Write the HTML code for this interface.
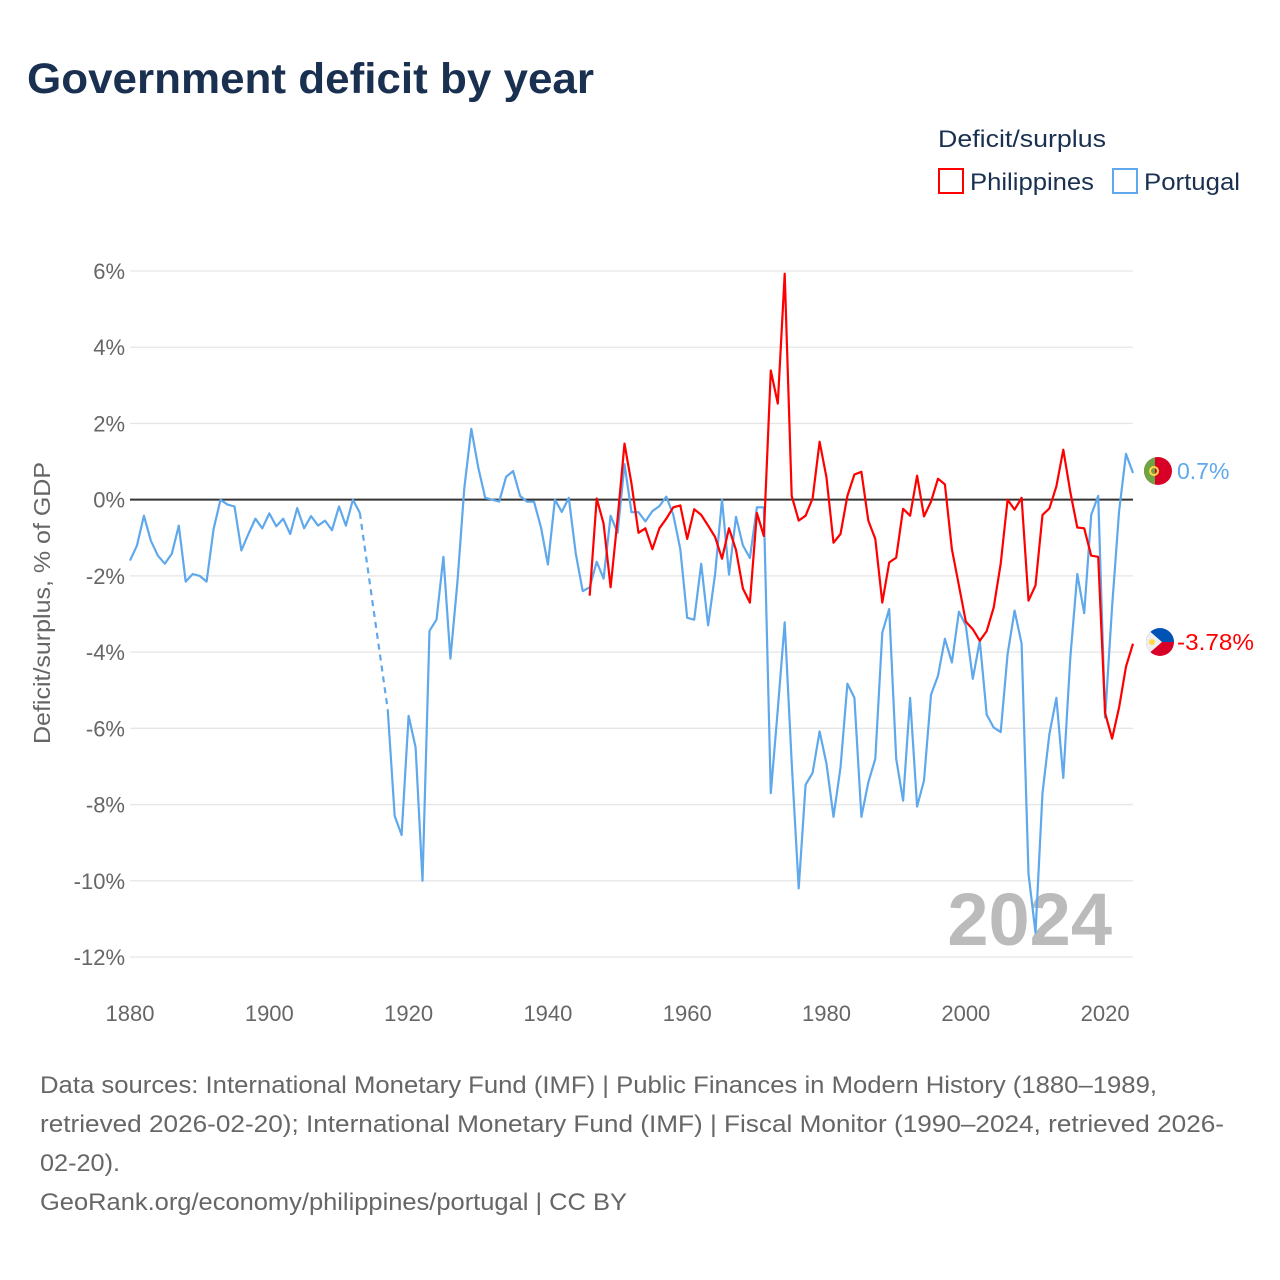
<!DOCTYPE html>
<html><head><meta charset="utf-8"><style>
html,body{margin:0;padding:0;background:#fff;}
svg{display:block;font-family:"Liberation Sans",sans-serif;}
</style></head><body>
<svg id="chart" width="1280" height="1280" viewBox="0 0 1280 1280" xmlns="http://www.w3.org/2000/svg">
<text x="27" y="93" font-size="43" font-weight="bold" fill="#1a3050" textLength="567" lengthAdjust="spacingAndGlyphs">Government deficit by year</text>
<text x="938" y="147" font-size="24" fill="#1a3050" textLength="168" lengthAdjust="spacingAndGlyphs">Deficit/surplus</text>
<g>
<rect x="939" y="169" width="24" height="24" fill="#fff" stroke="#f00" stroke-width="2"/>
<text x="970" y="190" font-size="24" fill="#1a3050" textLength="124" lengthAdjust="spacingAndGlyphs">Philippines</text>
</g>
<g>
<rect x="1113" y="169" width="24" height="24" fill="#fff" stroke="#5fa8ec" stroke-width="2"/>
<text x="1144" y="190" font-size="24" fill="#1a3050" textLength="96" lengthAdjust="spacingAndGlyphs">Portugal</text>
</g>
<g id="grid"></g>
<g id="yticks"></g>
<g id="xticks"></g>
<text transform="translate(50,603) rotate(-90)" text-anchor="middle" font-size="23" fill="#666" textLength="282" lengthAdjust="spacingAndGlyphs">Deficit/surplus, % of GDP</text>
<text x="1112" y="945" text-anchor="end" font-size="74" font-weight="bold" fill="#bbb">2024</text>
<g id="series"></g>
<g>
<clipPath id="cpt"><circle cx="1158" cy="471" r="14"/></clipPath>
<g clip-path="url(#cpt)"><rect x="1144" y="457" width="28" height="28" fill="#d80027"/><rect x="1144" y="457" width="11" height="28" fill="#6da544"/></g>
<circle cx="1154" cy="471" r="4" fill="none" stroke="#ffda44" stroke-width="2"/>
</g>
<text x="1177" y="479" font-size="23" fill="#5fa8ec">0.7%</text>
<g>
<clipPath id="cph"><circle cx="1160" cy="642" r="14"/></clipPath>
<g clip-path="url(#cph)"><rect x="1146" y="628" width="28" height="14" fill="#0052b4"/><rect x="1146" y="642" width="28" height="14" fill="#d80027"/><polygon points="1146,628 1162,642 1146,656" fill="#f0f0f0"/></g>
<circle cx="1152" cy="642" r="3" fill="#ffda44"/>
</g>
<text x="1177" y="650" font-size="23" fill="#f00" textLength="77" lengthAdjust="spacingAndGlyphs">-3.78%</text>
<g font-size="24" fill="#666">
<text x="40" y="1093" textLength="1117" lengthAdjust="spacingAndGlyphs">Data sources: International Monetary Fund (IMF) | Public Finances in Modern History (1880–1989,</text>
<text x="40" y="1132" textLength="1184" lengthAdjust="spacingAndGlyphs">retrieved 2026-02-20); International Monetary Fund (IMF) | Fiscal Monitor (1990–2024, retrieved 2026-</text>
<text x="40" y="1171" textLength="80" lengthAdjust="spacingAndGlyphs">02-20).</text>
<text x="40" y="1210" textLength="587" lengthAdjust="spacingAndGlyphs">GeoRank.org/economy/philippines/portugal | CC BY</text>
</g>
</svg>
<script>
const yTicks=[6,4,2,0,-2,-4,-6,-8,-10,-12];
const xTicks=[1880,1900,1920,1940,1960,1980,2000,2020];
const ptStart=1880;
const portugal=[-1.6,-1.2,-0.42,-1.08,-1.47,-1.68,-1.42,-0.68,-2.15,-1.95,-2.0,-2.15,-0.77,0,-0.13,-0.18,-1.33,-0.9,-0.5,-0.75,-0.36,-0.7,-0.5,-0.9,-0.22,-0.75,-0.43,-0.68,-0.55,-0.8,-0.18,-0.68,0,-0.35,null,null,null,-5.5,-8.3,-8.8,-5.67,-6.5,-10,-3.44,-3.15,-1.5,-4.17,-2.17,0.3,1.86,0.84,0.05,0,-0.05,0.6,0.75,0.1,-0.05,-0.05,-0.73,-1.7,0,-0.32,0.05,-1.42,-2.4,-2.3,-1.63,-2.07,-0.42,-0.87,0.93,-0.33,-0.33,-0.57,-0.3,-0.17,0.08,-0.4,-1.3,-3.1,-3.15,-1.68,-3.3,-1.95,0,-1.97,-0.45,-1.2,-1.53,-0.2,-0.2,-7.7,-5.5,-3.22,-6.9,-10.2,-7.48,-7.17,-6.08,-6.93,-8.32,-7.03,-4.83,-5.2,-8.32,-7.42,-6.8,-3.49,-2.87,-6.8,-7.9,-5.2,-8.05,-7.37,-5.12,-4.62,-3.65,-4.27,-2.94,-3.3,-4.7,-3.7,-5.64,-5.98,-6.1,-4.05,-2.91,-3.78,-9.82,-11.36,-7.7,-6.15,-5.2,-7.3,-4.15,-1.95,-2.98,-0.4,0.1,-5.72,-2.8,-0.3,1.2,0.7];
const phStart=1946;
const philippines=[-2.52,0.03,-0.63,-2.3,-0.5,1.47,0.42,-0.87,-0.75,-1.3,-0.75,-0.5,-0.2,-0.15,-1.03,-0.25,-0.4,-0.68,-0.98,-1.55,-0.75,-1.32,-2.33,-2.7,-0.35,-0.95,3.39,2.52,5.93,0.1,-0.55,-0.42,0.03,1.52,0.58,-1.13,-0.9,0.1,0.66,0.73,-0.55,-1.03,-2.7,-1.65,-1.52,-0.24,-0.42,0.63,-0.44,-0.05,0.55,0.4,-1.3,-2.25,-3.2,-3.4,-3.7,-3.45,-2.83,-1.68,0,-0.26,0.05,-2.65,-2.25,-0.4,-0.23,0.35,1.31,0.2,-0.73,-0.75,-1.47,-1.5,-5.6,-6.27,-5.45,-4.38,-3.78];

const X0=130,X1=1133,Y6=271,Yn12=957;
const xs=yr=>X0+(yr-1880)*(X1-X0)/144;
const ys=v=>Y6+(6-v)*(Yn12-Y6)/18;
const NS='http://www.w3.org/2000/svg';
function mk(tag,attrs,parent){const e=document.createElementNS(NS,tag);for(const k in attrs)e.setAttribute(k,attrs[k]);parent.appendChild(e);return e;}
const grid=document.getElementById('grid'),yt=document.getElementById('yticks'),xt=document.getElementById('xticks'),ser=document.getElementById('series');
yTicks.forEach(t=>{
  const l=mk('line',{x1:X0,x2:X1,y1:ys(t),y2:ys(t),stroke:t===0?'#333':'#e6e6e6','stroke-width':t===0?2:1.3},grid);
  
  
  const tx=mk('text',{x:125,y:ys(t)+8,'text-anchor':'end','font-size':22,fill:'#666'},yt);
  tx.textContent=t+'%';
  
  
});
xTicks.forEach(t=>{
  const tx=mk('text',{x:xs(t),y:1021,'text-anchor':'middle','font-size':22,fill:'#666'},xt);
  tx.textContent=t;
  
  
});
function drawSeries(vals,start,color,name){
  const g=mk('g',{},ser);
  
  
  let seg=[],prev=null;
  const flush=()=>{if(seg.length>1)mk('polyline',{points:seg.join(' '),fill:'none',stroke:color,'stroke-width':2.2,'stroke-linejoin':'round'},g);seg=[];};
  vals.forEach((v,i)=>{
    const yr=start+i;
    if(v===null){flush();return;}
    if(prev&&prev.yr<yr-1){
      const d=mk('line',{x1:xs(prev.yr),y1:ys(prev.v),x2:xs(yr),y2:ys(v),stroke:color,'stroke-width':2.2,'stroke-dasharray':'6,5'},g);
      
      
    }
    seg.push(xs(yr).toFixed(1)+','+ys(v).toFixed(1));
    prev={yr,v};
  });
  flush();
}
drawSeries(portugal,ptStart,'#5fa8ec','portugal');
drawSeries(philippines,phStart,'#f00','philippines');
</script>
</body></html>
